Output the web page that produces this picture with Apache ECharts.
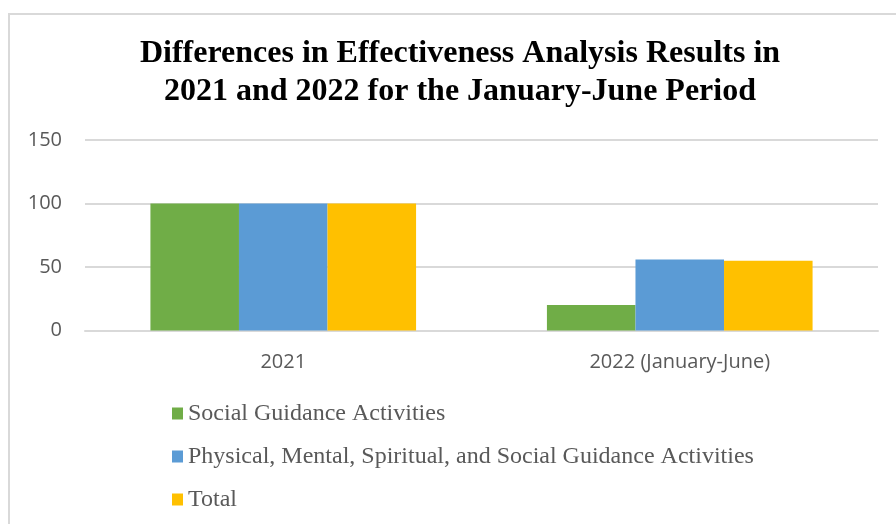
<!DOCTYPE html>
<html><head><meta charset="utf-8">
<script src="https://cdn.jsdelivr.net/npm/echarts@6/dist/echarts.min.js"></script>
<style>
html,body{margin:0;padding:0;background:#fff;overflow:hidden;}
#frame{position:absolute;left:8px;top:13px;width:900px;height:520px;border:2px solid #d9d9d9;box-sizing:border-box;}
#main{position:absolute;left:0;top:0;width:896px;height:524px;}
</style></head>
<body>
<div id="frame"></div>
<div id="main"></div>
<script>
const titleText = 'Differences in Effectiveness Analysis Results in\n2021 and 2022 for the January-June Period';
const categories = ['2021', '2022 (January-June)'];
const seriesNames = ['Social Guidance Activities', 'Physical, Mental, Spiritual, and Social Guidance Activities', 'Total'];
const socialGuidance = [100, 20];
const physicalMentalSpiritualSocial = [100, 56];
const total = [100, 55];
const colors = ['#70ad47', '#5b9bd5', '#ffc000'];
const yTicks = { min: 0, max: 150, interval: 50 };

const chart = echarts.init(document.getElementById('main'));
const dataSets = [socialGuidance, physicalMentalSpiritualSocial, total];
chart.setOption({
  animation: false,
  title: {
    text: titleText, left: 455, top: 30, textAlign: 'center',
    textStyle: { fontFamily: 'Liberation Serif', fontWeight: 'bold', fontSize: 32, lineHeight: 38, color: '#000' }
  },
  legend: {
    orient: 'vertical', left: 172, top: 401, itemGap: 18, padding: 0,
    itemWidth: 11, itemHeight: 12, icon: 'rect',
    textStyle: { fontFamily: 'Liberation Serif', fontSize: 24, lineHeight: 25, color: '#595959', padding: [0,0,0,0] },
    data: seriesNames
  },
  grid: { left: 85, right: 18, top: 140, height: 190.5, containLabel: false },
  xAxis: {
    type: 'category', data: categories,
    axisLine: { show: true, lineStyle: { color: '#d9d9d9', width: 2 } },
    axisTick: { show: false },
    axisLabel: { fontFamily: 'Open Sans', fontSize: 20, color: '#595959', margin: 22 }
  },
  yAxis: {
    type: 'value', min: yTicks.min, max: yTicks.max, interval: yTicks.interval,
    axisLine: { show: false }, axisTick: { show: false },
    splitLine: { lineStyle: { color: '#d9d9d9', width: 2 } },
    axisLabel: { fontFamily: 'Open Sans', fontSize: 20, color: '#595959', margin: 23 }
  },
  series: dataSets.map((d, i) => ({
    name: seriesNames[i], type: 'bar', data: d,
    barGap: '0%', barCategoryGap: '33%',
    itemStyle: { color: colors[i] }
  }))
});
</script>
</body></html>
